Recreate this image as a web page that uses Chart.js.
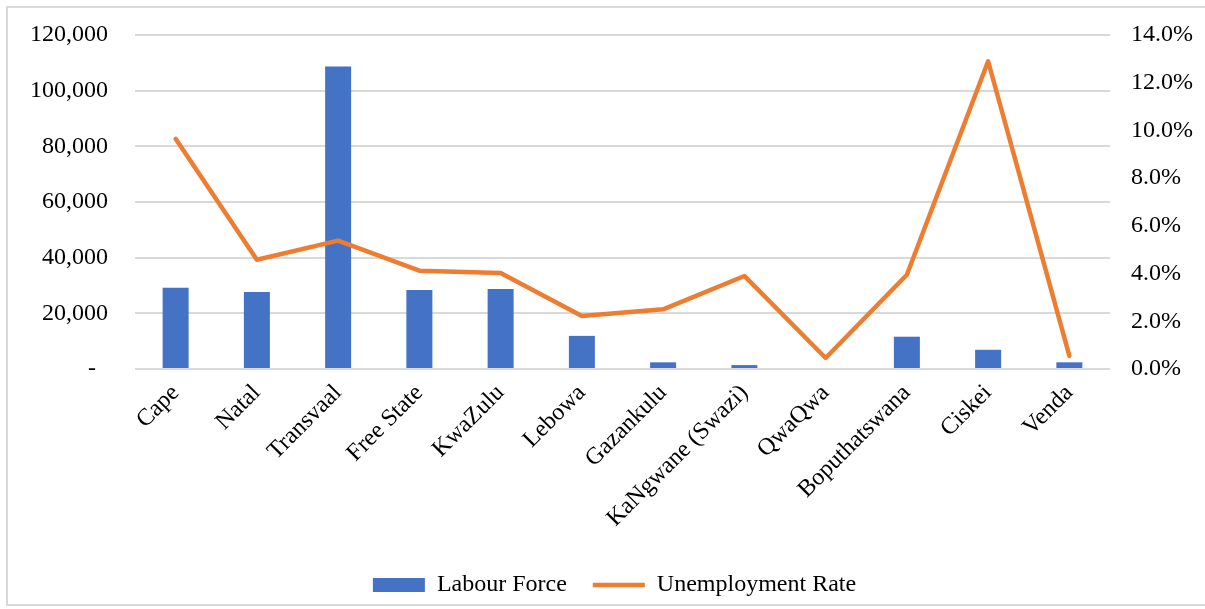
<!DOCTYPE html>
<html>
<head>
<meta charset="utf-8">
<script src="https://cdn.jsdelivr.net/npm/chart.js@4"></script>
<style>
    html, body { margin: 0; padding: 0; background: #ffffff; }
    #wrap { position: relative; width: 1205px; height: 609px; overflow: hidden; }
    #frame {
        position: absolute; left: 6px; top: 6px; width: 1210px; height: 600px;
        border: 2px solid #d9d9d9; box-sizing: border-box;
    }
    #chartBox { position: absolute; left: 0; top: 0; width: 1205px; height: 609px; }
</style>
</head>
<body>
<div id="wrap">
    <div id="frame"></div>
    <div id="chartBox"><canvas id="labourChart"></canvas></div>
</div>
<script>
// ===== DATA =====
const regions = ['Cape', 'Natal', 'Transvaal', 'Free State', 'KwaZulu', 'Lebowa',
    'Gazankulu', 'KaNgwane (Swazi)', 'QwaQwa', 'Boputhatswana', 'Ciskei', 'Venda'];

// Labour force (persons)
const labourForce = [29200, 27700, 108700, 28400, 28700, 11900,
    2400, 1400, 0, 11600, 6900, 2400];

// Unemployment rate (%)
const unemploymentRate = [9.65, 4.58, 5.38, 4.12, 4.02, 2.22,
    2.50, 3.90, 0.46, 3.95, 12.90, 0.55];

const leftTicks = [0, 20000, 40000, 60000, 80000, 100000, 120000];
const rightTicks = [0, 2, 4, 6, 8, 10, 12, 14];

// ===== STYLE =====
const FONT = '"Liberation Serif", "Times New Roman", serif';
const BLUE = '#4472c4';
const ORANGE = '#ed7d31';
const GRID = '#d9d9d9';
const NONE = 'rgba(0,0,0,0)';

// Nudge the legend a little to the right, like the original
const legendShift = {
    id: 'legendShift',
    afterLayout(chart) {
        if (chart.legend) {
            chart.legend.left += 12;
            chart.legend.right += 12;
        }
    }
};

function initializeChart() {
    const ctx = document.getElementById('labourChart');
    if (!ctx) return;

    new Chart(ctx.getContext('2d'), {
        data: {
            labels: regions,
            datasets: [
                {
                    type: 'line',
                    label: 'Unemployment Rate',
                    data: unemploymentRate,
                    yAxisID: 'y1',
                    borderColor: ORANGE,
                    backgroundColor: ORANGE,
                    borderWidth: 4.5,
                    borderCapStyle: 'round',
                    borderJoinStyle: 'round',
                    pointRadius: 0,
                    pointStyle: 'line',
                    tension: 0,
                    order: 0
                },
                {
                    type: 'bar',
                    label: 'Labour Force',
                    data: labourForce,
                    yAxisID: 'y',
                    backgroundColor: BLUE,
                    borderWidth: 0,
                    pointStyle: 'rect',
                    barPercentage: 0.32,
                    categoryPercentage: 1,
                    order: 1
                }
            ]
        },
        plugins: [legendShift],
        options: {
            responsive: true,
            maintainAspectRatio: false,
            animation: false,
            layout: { padding: { top: 35, bottom: 2, left: 0, right: 0 } },
            plugins: {
                tooltip: { enabled: false },
                legend: {
                    position: 'bottom',
                    reverse: true,
                    labels: {
                        color: '#000000',
                        font: { family: FONT, size: 24 },
                        usePointStyle: true,
                        pointStyleWidth: 52,
                        boxHeight: 14,
                        padding: 26
                    }
                }
            },
            scales: {
                x: {
                    grid: { display: false, drawTicks: false },
                    border: { display: false },
                    ticks: {
                        color: '#000000',
                        font: { family: FONT, size: 24 },
                        minRotation: 45,
                        maxRotation: 45,
                        autoSkip: false,
                        padding: 10
                    },
                    afterFit: function(scale) { scale.height = 178; }
                },
                y: {
                    position: 'left',
                    min: 0,
                    max: 120000,
                    afterBuildTicks: function(scale) {
                        scale.ticks = leftTicks.map(v => ({ value: v }));
                    },
                    // tick marks hidden, their length only spaces the labels
                    grid: { color: GRID, lineWidth: 2, drawTicks: true, tickLength: 27, tickColor: NONE },
                    border: { display: false },
                    ticks: {
                        color: '#000000',
                        font: { family: FONT, size: 24 },
                        padding: 0,
                        callback: function(value) {
                            return value === 0 ? '-  ' : value.toLocaleString('en-US');
                        }
                    },
                    afterFit: function(scale) { scale.width = 135; }
                },
                y1: {
                    position: 'right',
                    min: 0,
                    max: 14,
                    afterBuildTicks: function(scale) {
                        scale.ticks = rightTicks.map(v => ({ value: v }));
                    },
                    grid: { display: false, drawOnChartArea: false, drawTicks: true, tickLength: 21, tickColor: NONE },
                    border: { display: false },
                    ticks: {
                        color: '#000000',
                        font: { family: FONT, size: 24 },
                        padding: 0,
                        callback: function(value) { return value.toFixed(1) + '%'; }
                    },
                    afterFit: function(scale) { scale.width = 95; }
                }
            }
        }
    });
}

document.addEventListener('DOMContentLoaded', function() {
    initializeChart();
});
</script>
</body>
</html>
